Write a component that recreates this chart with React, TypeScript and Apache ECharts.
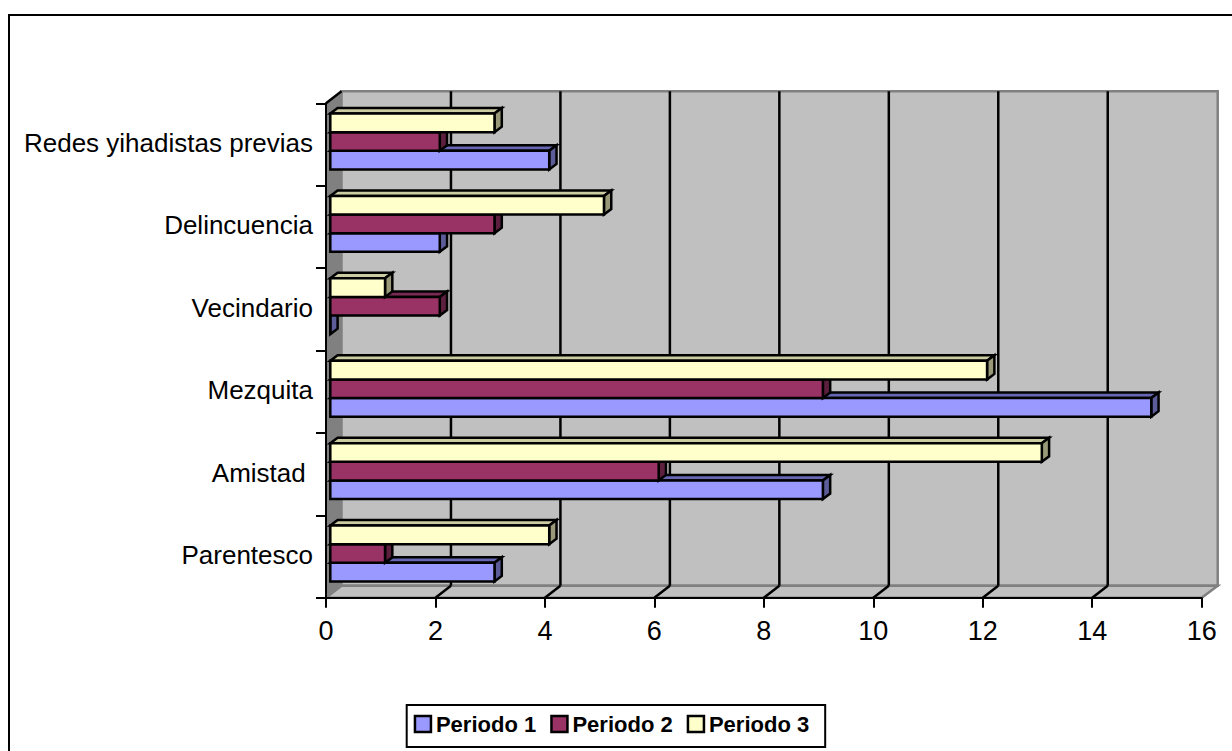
import React, { useEffect, useRef } from "react";
import * as echarts from "echarts";

const categories = ["Parentesco", "Amistad ", "Mezquita", "Vecindario", "Delincuencia", "Redes yihadistas previas"];
const periodNames = ["Periodo 1", "Periodo 2", "Periodo 3"];
const periodo1 = [3, 9, 15, 0, 2, 4];
const periodo2 = [1, 6, 9, 2, 3, 2];
const periodo3 = [4, 13, 12, 1, 5, 3];
const gridTicks = [2, 4, 6, 8, 10, 12, 14];

const frontColors = ["#9999FF", "#993366", "#FFFFCC"];
const topColors = ["#6666B3", "#7A2952", "#CCCCA3"];
const sideColors = ["#5C5C99", "#5C1F3D", "#99997A"];

const FONT = "'Liberation Sans', Arial, sans-serif";
const WALL_DX = 15.5;
const WALL_DY = -12;
const BAR_DX = 4.3;
const BAR_DY = -3;
const BAR_DEPTH_X = 7.3;
const BAR_DEPTH_Y = -5.5;
const BAR_BAND_RATIO = 0.226;
const BAR_LINE = 2.5;

function poly(points: number[][], fill: string, stroke: string, lineWidth = BAR_LINE) {
  return {
    type: "polygon",
    shape: { points },
    style: { fill, stroke, lineWidth, lineJoin: "miter" },
  };
}

function seg(x1: number, y1: number, x2: number, y2: number, stroke: string, lineWidth = 2) {
  return {
    type: "line",
    shape: { x1, y1, x2, y2 },
    style: { stroke, lineWidth },
  };
}

function renderWalls(params: any) {
  const c = params.coordSys;
  const l = c.x, t = c.y, r = c.x + c.width, b = c.y + c.height;
  const bl = l + WALL_DX, br = r + WALL_DX + 0.5, bt = t + WALL_DY, bb = b + WALL_DY;
  return {
    type: "group",
    children: [
      { type: "polygon", shape: { points: [[bl, bt], [br, bt], [br, bb], [bl, bb]] }, style: { fill: "#C0C0C0", stroke: "#808080", lineWidth: 2.5 } },
      { type: "polygon", shape: { points: [[l, b], [r, b], [br, bb], [bl, bb]] }, style: { fill: "#C0C0C0", stroke: "#808080", lineWidth: 2.5 } },
      { type: "polygon", shape: { points: [[l, t], [bl, bt], [bl, bb], [l, b]] }, style: { fill: "#808080", stroke: "#808080", lineWidth: 1 } },
      seg(l, t, bl, bt, "#000000", 2.5),
    ],
  };
}

function renderGridLine(_params: any, api: any) {
  const [x] = api.coord([api.value(0), 0]);
  const c = _params.coordSys;
  const b = c.y + c.height;
  const top = c.y + WALL_DY;
  const backX = x + WALL_DX;
  return {
    type: "group",
    children: [
      seg(backX, top, backX, b + WALL_DY, "#000000", 2.5),
      seg(x, b, backX, b + WALL_DY, "#000000", 2.5),
    ],
  };
}

function makeBarRenderer(i: number) {
  return (_params: any, api: any) => {
    const pt = api.coord([api.value(0), api.value(1)]);
    const origin = api.coord([0, api.value(1)]);
    const band = api.size([0, 1])[1];
    const h = band * BAR_BAND_RATIO;
    const cy = pt[1] + BAR_DY + (1 - i) * h;
    const x0 = origin[0] + BAR_DX;
    const x1 = pt[0] + BAR_DX;
    const yt = cy - h / 2;
    const yb = cy + h / 2;
    return {
      type: "group",
      children: [
        poly([[x0, yt], [x0 + BAR_DEPTH_X, yt + BAR_DEPTH_Y], [x1 + BAR_DEPTH_X, yt + BAR_DEPTH_Y], [x1, yt]], topColors[i], "#000000"),
        poly([[x1, yt], [x1 + BAR_DEPTH_X, yt + BAR_DEPTH_Y], [x1 + BAR_DEPTH_X, yb + BAR_DEPTH_Y], [x1, yb]], sideColors[i], "#000000"),
        poly([[x0, yt], [x1, yt], [x1, yb], [x0, yb]], frontColors[i], "#000000"),
      ],
    };
  };
}

const allPeriods = [periodo1, periodo2, periodo3];

export default function App() {
  const ref = useRef<HTMLDivElement>(null);
  useEffect(() => {
    const chart = echarts.init(ref.current!, undefined, { renderer: "svg" });
    chart.setOption({
      animation: false,
      backgroundColor: "#FFFFFF",
      textStyle: { fontFamily: FONT },
      grid: { left: 326, top: 103.3, width: 875.7, height: 494.4 },
      xAxis: {
        type: "value",
        min: 0,
        max: 16,
        interval: 2,
        z: 5,
        axisLine: { show: true, onZero: false, lineStyle: { color: "#000", width: 2 } },
        axisTick: { show: true, length: 10, lineStyle: { color: "#000", width: 2 } },
        axisLabel: { color: "#000", fontSize: 27, fontFamily: FONT, margin: 20 },
        splitLine: { show: false },
      },
      yAxis: {
        type: "category",
        data: categories,
        z: 5,
        axisLine: { show: true, onZero: false, lineStyle: { color: "#000", width: 2 } },
        axisTick: { show: true, length: 10, alignWithLabel: false, lineStyle: { color: "#000", width: 2 } },
        axisLabel: { color: "#000", fontSize: 26, fontFamily: FONT, margin: 13, interval: 0, verticalAlign: "bottom", lineHeight: 3 },
        splitLine: { show: false },
      },
      legend: {
        left: 406.7,
        top: 705,
        orient: "horizontal",
        padding: [8, 16, 12, 7],
        itemGap: 14,
        itemWidth: 16,
        itemHeight: 16,
        backgroundColor: "#FFFFFF",
        borderColor: "#000000",
        borderWidth: 2,
        borderRadius: 0,
        textStyle: { color: "#000", fontSize: 22, fontWeight: "bold", fontFamily: FONT },
        data: periodNames.map((name, i) => ({
          name,
          icon: "rect",
          itemStyle: { color: frontColors[i], borderColor: "#000", borderWidth: 2.5 },
        })),
      },
      graphic: [
        {
          type: "polyline",
          silent: true,
          shape: { points: [[9, 751], [9, 15], [1232, 15]] },
          style: { stroke: "#000", lineWidth: 2, fill: "none" },
        },
      ],
      series: [
        { name: "pared", type: "custom", silent: true, z: 1, data: [[0, 0]], encode: { x: 0, y: 1 }, renderItem: renderWalls },
        { name: "rejilla", type: "custom", silent: true, z: 2, data: gridTicks.map((t) => [t, 0]), encode: { x: 0, y: 1 }, renderItem: renderGridLine },
        ...periodNames.map((name, i) => ({
          name,
          type: "custom",
          z: 6 + i,
          itemStyle: { color: frontColors[i] },
          encode: { x: 0, y: 1 },
          data: allPeriods[i].map((v, k) => [v, k]),
          renderItem: makeBarRenderer(i),
        })),
      ],
    });
    return () => chart.dispose();
  }, []);
  return <div ref={ref} style={{ position: "absolute", left: 0, top: 0, width: 1232, height: 751 }} />;
}
